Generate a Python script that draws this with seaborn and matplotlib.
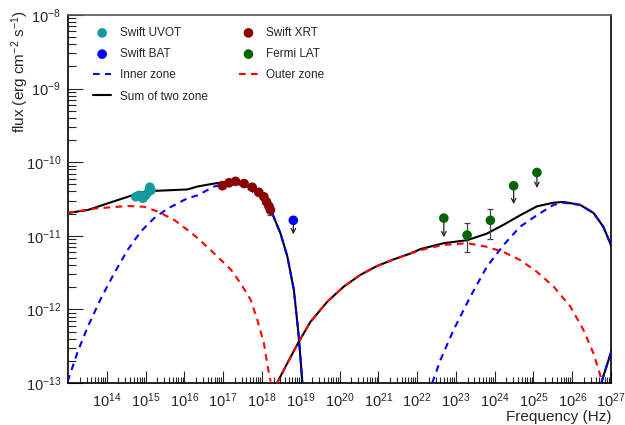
import numpy as np
import pandas as pd
import matplotlib
matplotlib.use("Agg")
import matplotlib.pyplot as plt
import seaborn as sns
from matplotlib.ticker import FixedLocator, LogFormatterSciNotation, NullFormatter

# ---------------- observed data (log10 nu [Hz], log10 flux [erg cm^-2 s^-1]) ----------------
uvot_lognu = [14.75, 14.83, 14.93, 15.00, 15.08, 15.11, 15.14]
uvot_logf = [-10.47, -10.45, -10.49, -10.45, -10.40, -10.34, -10.38]

xrt_lognu = [16.98, 17.15, 17.32, 17.54, 17.75, 17.92, 18.05, 18.12, 18.18, 18.22]
xrt_logf = [-10.32, -10.28, -10.26, -10.29, -10.34, -10.41, -10.47, -10.54, -10.60, -10.65]
xrt_err_dex = [0.0, 0.0, 0.0, 0.0, 0.0, 0.0, 0.02, 0.03, 0.04, 0.07]

bat_lognu = [18.81]
bat_logf = [-10.79]
bat_ul_dex = [0.19]

fermi_det_lognu = [23.29, 23.89]
fermi_det_logf = [-10.99, -10.79]
fermi_det_lo = [-11.22, -11.05]
fermi_det_hi = [-10.83, -10.64]

fermi_ul_lognu = [22.69, 24.49, 25.09]
fermi_ul_logf = [-10.76, -10.32, -10.14]
fermi_ul_dex = [0.26, 0.25, 0.21]

# ---------------- model curves ----------------
inner_syn_lognu = [12.99, 13.25, 13.51, 13.85, 14.19, 14.54, 14.88, 15.22, 15.57, 16.08, 16.34,
                   16.77, 17.11, 17.37, 17.63, 17.97, 18.23, 18.48, 18.655, 18.825, 18.95, 19.04]
inner_syn_logf = [-12.98, -12.575, -12.235, -11.85, -11.51, -11.19, -10.94, -10.76, -10.63, -10.49, -10.45,
                  -10.33, -10.29, -10.29, -10.355, -10.47, -10.65, -10.97, -11.28, -11.74, -12.37, -12.98]

inner_ic_lognu = [22.39, 22.60, 22.94, 23.37, 23.80, 24.23, 24.66, 25.09, 25.52, 25.775, 26.205, 26.55, 26.80, 26.98, 27.0]
inner_ic_logf = [-13.0, -12.69, -12.28, -11.83, -11.42, -11.125, -10.875, -10.72, -10.58, -10.55, -10.58, -10.69, -10.875, -11.10, -11.14]

inner_tail_lognu = [26.76, 27.02]
inner_tail_logf = [-12.98, -12.55]

outer_syn_lognu = [12.99, 13.68, 14.54, 14.96, 15.31, 15.74, 16.08, 16.34, 16.77, 17.20, 17.45,
                   17.71, 17.88, 18.05, 18.18, 18.225]
outer_syn_logf = [-10.69, -10.63, -10.595, -10.605, -10.67, -10.785, -10.92, -11.03, -11.24, -11.46, -11.645,
                  -11.87, -12.14, -12.46, -12.87, -12.98]

outer_ic_lognu = [18.38, 18.655, 18.95, 19.25, 19.685, 20.11, 20.54, 20.97, 21.40, 21.83, 22.26, 22.69,
                  23.29, 23.80, 24.23, 24.66, 25.09, 25.52, 25.95, 26.29, 26.55, 26.72, 26.76]
outer_ic_logf = [-13.01, -12.73, -12.44, -12.17, -11.895, -11.69, -11.53, -11.41, -11.32, -11.24, -11.17, -11.125,
                 -11.10, -11.15, -11.22, -11.33, -11.49, -11.69, -11.96, -12.28, -12.60, -12.89, -12.98]

sum_syn_lognu = [12.99, 13.51, 14.02, 14.54, 14.88, 15.22, 15.65, 16.08, 16.34, 16.77, 17.11, 17.37,
                 17.63, 17.97, 18.23, 18.48, 18.655, 18.825, 18.95, 19.04]
sum_syn_logf = [-10.69, -10.65, -10.56, -10.47, -10.41, -10.39, -10.38, -10.37, -10.33, -10.29, -10.265, -10.28,
                -10.33, -10.46, -10.65, -10.97, -11.28, -11.74, -12.37, -12.98]

sum_ic_lognu = [18.38, 18.655, 18.95, 19.25, 19.685, 20.11, 20.54, 20.97, 21.40, 21.83, 22.09, 22.69, 23.29,
                23.80, 24.23, 24.66, 25.09, 25.52, 25.775, 26.205, 26.55, 26.80, 26.98, 27.0]
sum_ic_logf = [-13.01, -12.73, -12.44, -12.17, -11.895, -11.69, -11.53, -11.41, -11.32, -11.24, -11.18, -11.10, -11.06,
               -10.97, -10.85, -10.72, -10.60, -10.55, -10.54, -10.58, -10.69, -10.875, -11.10, -11.14]

sum_tail_lognu = [26.76, 27.02]
sum_tail_logf = [-12.98, -12.55]

x_tick_exps = list(range(14, 28))
y_tick_exps = list(range(-13, -7))

# ---------------- style ----------------
sns.set_style("white")
plt.rcParams["font.family"] = ["Liberation Sans", "DejaVu Sans"]
plt.rcParams["mathtext.fontset"] = "custom"
plt.rcParams["mathtext.rm"] = "Liberation Sans"
plt.rcParams["mathtext.it"] = "Liberation Sans:italic"
plt.rcParams["mathtext.bf"] = "Liberation Sans:bold"

C_UVOT = "#149b9b"
C_XRT = "#8b0000"
C_BAT = "#0000ff"
C_LAT = "#046404"
C_INNER = "#0000ff"
C_OUTER = "#ff0000"

fig = plt.figure(figsize=(6.25, 4.25), dpi=100)
ax = fig.add_axes([68 / 625, 42 / 425, (611 - 68) / 625, (383 - 15) / 425])
ax.set_xscale("log")
ax.set_yscale("log")

def df_of(lx, ly):
    return pd.DataFrame({"nu": np.power(10.0, lx), "f": np.power(10.0, ly)})

dash = (0, (3.2, 2.6))
lw = 1.5

def line(lx, ly, color, ls, label=None, z=2):
    sns.lineplot(data=df_of(lx, ly), x="nu", y="f", sort=False, estimator=None,
                 color=color, linestyle=ls, linewidth=lw, label=label, ax=ax, zorder=z)

line(sum_syn_lognu, sum_syn_logf, "black", "-", "Sum of two zone", 2)
line(sum_ic_lognu, sum_ic_logf, "black", "-", None, 2)
line(sum_tail_lognu, sum_tail_logf, "black", "-", None, 2)
line(inner_syn_lognu, inner_syn_logf, C_INNER, dash, "Inner zone", 3)
line(inner_ic_lognu, inner_ic_logf, C_INNER, dash, None, 3)
line(inner_tail_lognu, inner_tail_logf, C_INNER, dash, None, 3)
line(outer_syn_lognu, outer_syn_logf, C_OUTER, dash, "Outer zone", 3)
line(outer_ic_lognu, outer_ic_logf, C_OUTER, dash, None, 3)

# upper-limit arrows
for lx, ly, d in list(zip(bat_lognu, bat_logf, bat_ul_dex)) + list(zip(fermi_ul_lognu, fermi_ul_logf, fermi_ul_dex)):
    ax.annotate("", xy=(10 ** lx, 10 ** (ly - d)), xytext=(10 ** lx, 10 ** ly),
                arrowprops=dict(arrowstyle="->", color="#222222", lw=0.9, shrinkA=0, shrinkB=0,
                                mutation_scale=8), zorder=4)

# error bars
f_det = np.power(10.0, fermi_det_logf)
ax.errorbar(np.power(10.0, fermi_det_lognu), f_det,
            yerr=[f_det - np.power(10.0, fermi_det_lo), np.power(10.0, fermi_det_hi) - f_det],
            fmt="none", ecolor="#444444", elinewidth=0.9, capsize=2.5, capthick=0.9, zorder=4)
f_xrt = np.power(10.0, xrt_logf)
xe = np.array(xrt_err_dex)
ax.errorbar(np.power(10.0, xrt_lognu), f_xrt,
            yerr=[f_xrt - f_xrt * 10 ** (-xe), f_xrt * 10 ** xe - f_xrt],
            fmt="none", ecolor="#444444", elinewidth=0.9, capsize=2.0, capthick=0.9, zorder=4)

ms = 48
def pts(lx, ly, color, label):
    sns.scatterplot(data=df_of(lx, ly), x="nu", y="f", color=color, s=ms, edgecolor="none",
                    linewidth=0, label=label, ax=ax, zorder=5)

pts(uvot_lognu, uvot_logf, C_UVOT, "Swift UVOT")
pts(bat_lognu, bat_logf, C_BAT, "Swift BAT")
pts(xrt_lognu, xrt_logf, C_XRT, "Swift XRT")
pts(fermi_ul_lognu + fermi_det_lognu, fermi_ul_logf + fermi_det_logf, C_LAT, "Fermi LAT")

# axes
ax.set_xlim(1e13, 1e27)
ax.set_ylim(1e-13, 1e-8)
ax.xaxis.set_major_locator(FixedLocator([10.0 ** e for e in x_tick_exps]))
ax.xaxis.set_minor_locator(FixedLocator([m * 10.0 ** e for e in range(13, 27) for m in range(2, 10)]))
ax.yaxis.set_major_locator(FixedLocator([10.0 ** e for e in y_tick_exps]))
ax.yaxis.set_minor_locator(FixedLocator([m * 10.0 ** e for e in range(-13, -8) for m in range(2, 10)]))
ax.xaxis.set_major_formatter(LogFormatterSciNotation())
ax.yaxis.set_major_formatter(LogFormatterSciNotation())
ax.xaxis.set_minor_formatter(NullFormatter())
ax.yaxis.set_minor_formatter(NullFormatter())
ax.tick_params(axis="x", which="major", direction="in", length=8.6, width=0.8, labelsize=10.5, pad=6, bottom=True, top=False)
ax.tick_params(axis="x", which="minor", direction="in", length=4.5, width=0.8, bottom=True, top=False)
ax.tick_params(axis="y", which="major", direction="in", length=11, width=0.8, labelsize=10.5, pad=5, left=True, right=False)
ax.tick_params(axis="y", which="minor", direction="in", length=5.5, width=0.8, left=True, right=False)
for s in ax.spines.values():
    s.set_color("black")
    s.set_linewidth(1.2)
    s.set_visible(True)
ax.spines["top"].set_color("#555555")

ax.set_xlabel("Frequency (Hz)", fontsize=11, loc="right")
ax.set_ylabel("flux (erg cm$^{-2}$ s$^{-1}$)", fontsize=11, loc="top")
ax.xaxis.set_label_coords(1.0, -0.073)
ax.yaxis.set_label_coords(-0.068, 1.014)

# legend (row-major look: UVOT XRT / BAT LAT / Inner Outer / Sum)
handles, labels = ax.get_legend_handles_labels()
hmap = dict(zip(labels, handles))
order = ["Swift UVOT", "Swift BAT", "Inner zone", "Sum of two zone", "Swift XRT", "Fermi LAT", "Outer zone"]
ax.legend([hmap[k] for k in order], order, ncol=2, loc="upper left",
          bbox_to_anchor=(93 / 625, 1 - 27 / 425), bbox_transform=fig.transFigure,
          frameon=False, fontsize=8.5, handlelength=1.55, handletextpad=0.7,
          columnspacing=2.7, labelspacing=0.78, borderpad=0, borderaxespad=0, scatterpoints=1)

fig.savefig("out.png", dpi=100)
